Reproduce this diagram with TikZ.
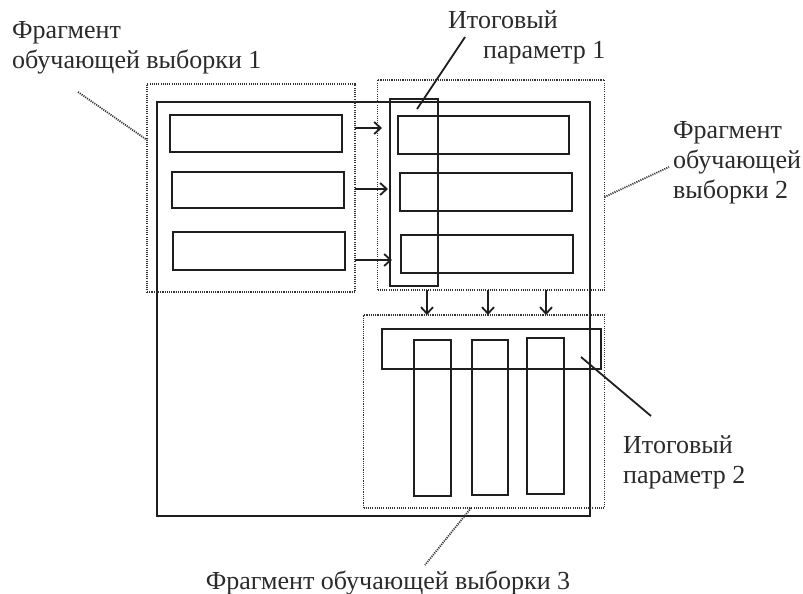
\documentclass[tikz,border=0pt]{standalone}
\usepackage{fontspec}
\setmainfont{Liberation Serif}
\usetikzlibrary{arrows.meta}
\definecolor{ink}{HTML}{1E1E1E}
\definecolor{txt}{HTML}{2A2A2A}
\definecolor{dotc}{HTML}{333333}
\begin{document}
\begin{tikzpicture}[x=1pt,y=-1pt,
  box/.style={draw=ink,line width=2.1pt,rectangle,inner sep=0pt,outer sep=0pt},
  dotbox/.style={draw=dotc,line width=1.8pt,dash pattern=on 1.1pt off 1.1pt,rectangle,inner sep=0pt,outer sep=0pt},
  lab/.style={text=txt,font=\fontsize{26}{30}\selectfont,inner sep=0pt,align=left},
  arr/.style={draw=ink,line width=1.8pt,-{Straight Barb[length=6.5pt,width=12pt,line width=1.8pt]}},
  lead/.style={draw=ink,line width=1.8pt},
  dlead/.style={draw=dotc,line width=1.8pt,dash pattern=on 1.1pt off 1.1pt}]
\useasboundingbox (0,0) rectangle (803,594);
% big frame
\draw[box] (157,102) rectangle (590,516);
% dotted fragments
\node[dotbox,minimum width=208pt,minimum height=208pt] (D1) at (251,188) {};
\node[dotbox,minimum width=227pt,minimum height=210pt] (D2) at (491,185) {};
\node[dotbox,minimum width=241pt,minimum height=193pt] (D3) at (484,411.5) {};
% left rectangles
\node[box,minimum width=172pt,minimum height=37pt] (L1) at (256,133.5) {};
\node[box,minimum width=172pt,minimum height=36pt] (L2) at (258,190) {};
\node[box,minimum width=172pt,minimum height=38pt] (L3) at (259,251) {};
% right rectangles
\node[box,minimum width=171pt,minimum height=38pt] (R1) at (483.5,135) {};
\node[box,minimum width=172pt,minimum height=38pt] (R2) at (486,192) {};
\node[box,minimum width=172pt,minimum height=38pt] (R3) at (487,254) {};
% total parameter 1 (tall)
\node[box,minimum width=48pt,minimum height=187pt] (P1) at (414,192.5) {};
% total parameter 2 (wide)
\node[box,minimum width=219pt,minimum height=40pt] (P2) at (491.5,349) {};
% vertical rectangles
\node[box,minimum width=37pt,minimum height=156pt] (V1) at (432.5,418) {};
\node[box,minimum width=36pt,minimum height=155pt] (V2) at (490,417.5) {};
\node[box,minimum width=37pt,minimum height=156pt] (V3) at (545.5,416) {};
% horizontal arrows
\draw[arr] (D1.east |- 0,128) -- ([xshift=-8pt]P1.west |- 0,128);
\draw[arr] (D1.east |- 0,189) -- ([xshift=-2pt]P1.west |- 0,189);
\draw[arr] (D1.east |- 0,260) -- ([xshift=2pt]P1.west |- 0,260);
% vertical arrows
\draw[arr] (D2.south -| 427,0) -- (D3.north -| 427,0);
\draw[arr] (D2.south -| 488,0) -- (D3.north -| 488,0);
\draw[arr] (D2.south -| 546,0) -- (D3.north -| 546,0);
% labels
\node[lab,anchor=west] (T1) at (12,48) {Фрагмент\\обучающей выборки 1};
\node[lab,anchor=west] (T2) at (448,37) {Итоговый\\\hspace*{35pt}параметр 1};
\node[lab,anchor=west] (T3) at (673,163) {Фрагмент\\обучающей\\выборки 2};
\node[lab,anchor=west] (T4) at (623,462) {Итоговый\\параметр 2};
\node[lab,anchor=center] (T5) at (388,583) {Фрагмент обучающей выборки 3};
% leaders
\coordinate (c1) at (78,92);
\draw[dlead] (c1) -- (D1.west |- 0,140);
\coordinate (c2a) at (465,37);
\coordinate (c2b) at (417,109);
\draw[lead] (c2a) -- (c2b);
\coordinate (c3) at (669,167);
\draw[dlead] (D2.east |- 0,197) -- (c3);
\coordinate (c4a) at (581,357);
\coordinate (c4b) at (651,416);
\draw[lead] (c4a) -- (c4b);
\coordinate (c5) at (425,565);
\draw[dlead] (D3.south -| 471,0) -- (c5);
\end{tikzpicture}
\end{document}
